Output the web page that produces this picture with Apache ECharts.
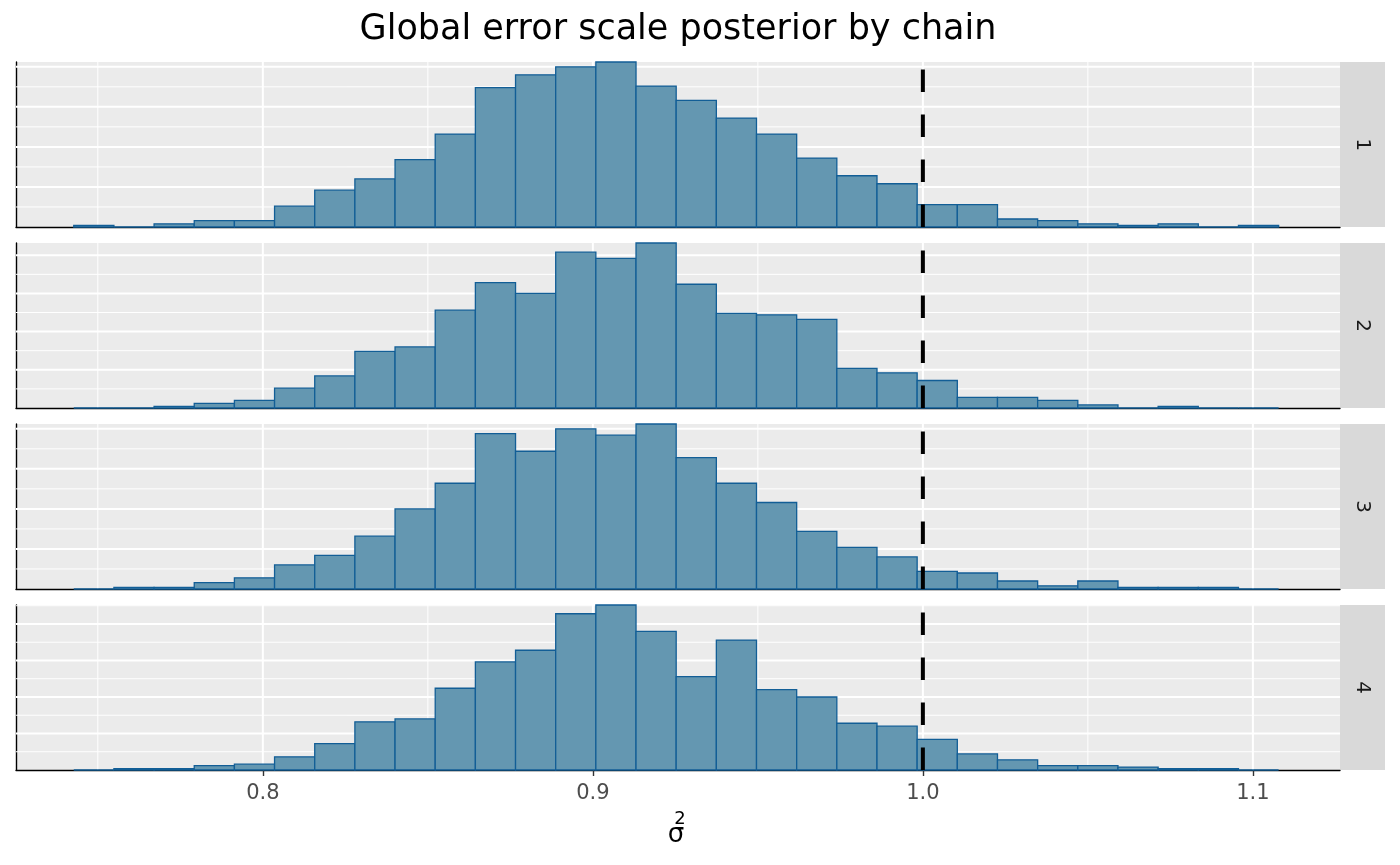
<!DOCTYPE html>
<html>
<head>
<meta charset="utf-8">
<script src="https://cdn.jsdelivr.net/npm/echarts@6/dist/echarts.min.js"></script>
<style>html,body{margin:0;padding:0;background:#fff;}#chart{width:1400px;height:865px;}</style>
</head>
<body>
<div id="chart"></div>
<script>
// ---- data ----
const chartTitle = 'Global error scale posterior by chain';
const chainLabels = ['1', '2', '3', '4'];
const binStart = 0.7427;   // left edge of first bin
const binWidth = 0.01217;  // histogram bin width
const chain1 = [1,0,2,4,4,13,23,30,42,58,87,95,100,103,88,79,68,58,43,32,27,14,14,5,4,2,1,2,0,1];
const chain2 = [0,0,1,3,5,13,21,37,40,64,82,75,102,98,108,81,62,61,58,26,23,18,7,7,5,2,0,1,0,0];
const chain3 = [0,1,1,4,7,15,21,33,50,66,97,86,100,96,103,82,66,54,36,26,20,11,10,5,2,5,1,1,1,0];
const chain4 = [0,1,1,3,4,9,18,33,35,56,74,82,107,113,95,64,89,55,50,32,30,21,11,7,3,3,2,1,1,0];
const chains = [chain1, chain2, chain3, chain4];
const refValue = 1.0;
const xMin = 0.7252, xMax = 1.1264;
const xMajor = [0.8, 0.9, 1.0, 1.1];
const xMinor = [0.75, 0.85, 0.95, 1.05];
const yMajor = [25, 50, 75, 100];
const yMinor = [12.5, 37.5, 62.5, 87.5, 112.5];

// ---- layout ----
const FONT = "'DejaVu Sans', 'Noto Sans', sans-serif";
const panelLeft = 16, panelRight = 1340, stripW = 45;
const panelTops = [62, 243, 424, 605];
const panelH = 165;

const grids = [], xAxes = [], yAxes = [], series = [], graphics = [];

chains.forEach((counts, i) => {
  const ymax = Math.max(...counts);
  const last = i === chains.length - 1;
  grids.push({
    left: panelLeft, width: panelRight - panelLeft, top: panelTops[i], height: panelH,
    show: true, backgroundColor: '#EBEBEB', borderWidth: 0
  });
  xAxes.push({
    type: 'value', gridIndex: i, min: xMin, max: xMax,
    splitLine: { show: false },
    axisLine: { show: true, onZero: false, lineStyle: { color: '#000', width: 1.4 } },
    axisTick: { show: last, length: 6, lineStyle: { color: '#333', width: 1.4 }, customValues: xMajor },
    axisLabel: { show: last, customValues: xMajor, formatter: v => v.toFixed(1),
      fontSize: 21, color: '#4D4D4D', margin: 13, fontFamily: FONT }
  });
  yAxes.push({
    type: 'value', gridIndex: i, min: 0, max: ymax,
    splitLine: { show: false },
    axisLine: { show: true, lineStyle: { color: '#000', width: 1.4 } },
    axisTick: { show: false }, axisLabel: { show: false }
  });

  // gridlines (drawn under the bars)
  const gl = [];
  xMajor.forEach(v => gl.push([v, 0]));
  xMinor.forEach(v => gl.push([v, 1]));
  yMajor.filter(v => v <= ymax).forEach(v => gl.push([v, 2]));
  yMinor.filter(v => v <= ymax).forEach(v => gl.push([v, 3]));
  series.push({
    type: 'custom', xAxisIndex: i, yAxisIndex: i, z: 1, silent: true,
    data: gl,
    renderItem: (params, api) => {
      const cs = params.coordSys;
      const v = api.value(0), kind = api.value(1);
      const w = (kind === 0 || kind === 2) ? 2 : 1;
      let shape;
      if (kind < 2) {
        const x = api.coord([v, 0])[0];
        shape = { x1: x, y1: cs.y, x2: x, y2: cs.y + cs.height };
      } else {
        const y = api.coord([xMin, v])[1];
        shape = { x1: cs.x, y1: y, x2: cs.x + cs.width, y2: y };
      }
      return { type: 'line', shape, style: { stroke: '#FFFFFF', lineWidth: w } };
    }
  });

  // histogram bars
  const bars = counts.map((c, k) => [binStart + k * binWidth, binStart + (k + 1) * binWidth, c]);
  series.push({
    type: 'custom', xAxisIndex: i, yAxisIndex: i, z: 2,
    encode: { x: [0, 1], y: 2 },
    data: bars,
    renderItem: (params, api) => {
      const p0 = api.coord([api.value(0), 0]);
      const p1 = api.coord([api.value(1), api.value(2)]);
      return {
        type: 'rect',
        shape: { x: p0[0], y: p1[1], width: p1[0] - p0[0], height: p0[1] - p1[1] },
        style: { fill: '#6497B1', stroke: '#125E96', lineWidth: 1.3 }
      };
    }
  });

  // dashed reference line
  series.push({
    type: 'custom', xAxisIndex: i, yAxisIndex: i, z: 3, silent: true,
    data: [[refValue, ymax]],
    renderItem: (params, api) => {
      const b = api.coord([api.value(0), 0]);
      const t = api.coord([api.value(0), api.value(1)]);
      return {
        type: 'line',
        shape: { x1: b[0], y1: b[1], x2: t[0], y2: t[1] },
        style: { stroke: '#000', lineWidth: 4, lineDash: [22.5, 22.5] }
      };
    }
  });

  // strip
  graphics.push({
    type: 'rect', shape: { x: panelRight, y: panelTops[i], width: stripW, height: panelH },
    style: { fill: '#D9D9D9' }, silent: true
  });
  graphics.push({
    type: 'text', x: panelRight + stripW / 2, y: panelTops[i] + panelH / 2, rotation: -Math.PI / 2,
    style: { text: chainLabels[i], font: '20px ' + FONT, fill: '#1A1A1A', align: 'center', verticalAlign: 'middle' },
    silent: true
  });
});

// title
graphics.push({
  type: 'text', x: 678, y: 30,
  style: { text: chartTitle, font: '35px ' + FONT, fill: '#000', align: 'center', verticalAlign: 'middle' }
});
// x axis title: sigma with 2 above
graphics.push({
  type: 'text', x: 676, y: 835,
  style: { text: 'σ', font: '26px ' + FONT, fill: '#000', align: 'center', verticalAlign: 'middle' }
});
graphics.push({
  type: 'text', x: 680, y: 819,
  style: { text: '2', font: '18px ' + FONT, fill: '#000', align: 'center', verticalAlign: 'middle' }
});

const chart = echarts.init(document.getElementById('chart'), null, { renderer: 'canvas' });
chart.setOption({
  backgroundColor: '#FFFFFF',
  animation: false,
  grid: grids, xAxis: xAxes, yAxis: yAxes, series: series, graphic: graphics
});
</script>
</body>
</html>
